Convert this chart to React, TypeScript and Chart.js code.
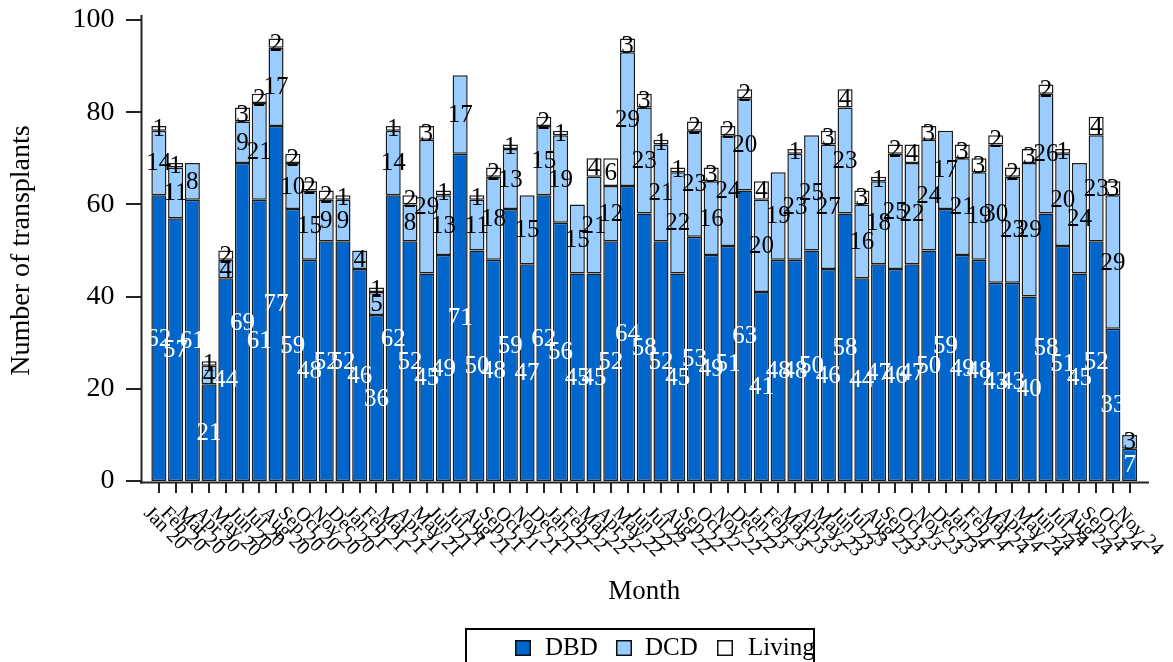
import React, { useEffect, useRef } from "react";
import { Chart, registerables } from "chart.js";

Chart.register(...registerables);

const months: string[] = [
  "Jan 20", "Feb 20", "Mar 20", "Apr 20", "May 20", "Jun 20", "Jul 20", "Aug 20", "Sep 20", "Oct 20", "Nov 20", "Dec 20",
  "Jan 21", "Feb 21", "Mar 21", "Apr 21", "May 21", "Jun 21", "Jul 21", "Aug 21", "Sep 21", "Oct 21", "Nov 21", "Dec 21",
  "Jan 22", "Feb 22", "Mar 22", "Apr 22", "May 22", "Jun 22", "Jul 22", "Aug 22", "Sep 22", "Oct 22", "Nov 22", "Dec 22",
  "Jan 23", "Feb 23", "Mar 23", "Apr 23", "May 23", "Jun 23", "Jul 23", "Aug 23", "Sep 23", "Oct 23", "Nov 23", "Dec 23",
  "Jan 24", "Feb 24", "Mar 24", "Apr 24", "May 24", "Jun 24", "Jul 24", "Aug 24", "Sep 24", "Oct 24", "Nov 24",
];

const dbd: number[] = [
  62, 57, 61, 21, 44, 69, 61, 77, 59, 48, 52, 52,
  46, 36, 62, 52, 45, 49, 71, 50, 48, 59, 47, 62,
  56, 45, 45, 52, 64, 58, 52, 45, 53, 49, 51, 63,
  41, 48, 48, 50, 46, 58, 44, 47, 46, 47, 50, 59,
  49, 48, 43, 43, 40, 58, 51, 45, 52, 33, 7,
];

const dcd: number[] = [
  14, 11, 8, 4, 4, 9, 21, 17, 10, 15, 9, 9,
  4, 5, 14, 8, 29, 13, 17, 11, 18, 13, 15, 15,
  19, 15, 21, 12, 29, 23, 21, 22, 23, 16, 24, 20,
  20, 19, 23, 25, 27, 23, 16, 18, 25, 22, 24, 17,
  21, 19, 30, 23, 29, 26, 20, 24, 23, 29, 3,
];

const living: number[] = [
  1, 1, 0, 1, 2, 3, 2, 2, 2, 2, 2, 1,
  0, 1, 1, 2, 3, 1, 0, 1, 2, 1, 0, 2,
  1, 0, 4, 6, 3, 3, 1, 1, 2, 3, 2, 2,
  4, 0, 1, 0, 3, 4, 3, 1, 2, 4, 3, 0,
  3, 3, 2, 2, 3, 2, 1, 0, 4, 3, 0,
];

const seriesNames = ["DBD", "DCD", "Living"];
const seriesColors = ["#0066CC", "#99CCFF", "#FFFFFF"];
const labelColors = ["#FFFFFF", "#000000", "#000000"];

const yMin = 0;
const yMax = 100;
const yStep = 20;

const SERIF = "'Liberation Serif', 'Times New Roman', serif";

const W = 1173;
const H = 662;

const customPlugin = {
  id: "customDraw",
  afterDatasetsDraw(chart: any) {
    const ctx = chart.ctx;
    ctx.save();
    ctx.font = `25px ${SERIF}`;
    ctx.textAlign = "center";
    ctx.textBaseline = "middle";
    chart.data.datasets.forEach((ds: any, di: number) => {
      const meta = chart.getDatasetMeta(di);
      ctx.fillStyle = labelColors[di];
      meta.data.forEach((el: any, j: number) => {
        const v = ds.data[j];
        if (!v) return;
        const p = el.getProps(["x", "y", "base"], true);
        ctx.fillText(String(v), p.x, (p.y + p.base) / 2 + 1);
      });
    });
    ctx.restore();
  },
  afterDraw(chart: any) {
    const ctx = chart.ctx;
    const xs = chart.scales.x;
    const ys = chart.scales.y;
    ctx.save();
    ctx.strokeStyle = "#222";
    ctx.lineWidth = 2;
    // y axis line
    ctx.beginPath();
    ctx.moveTo(141.5, 15);
    ctx.lineTo(141.5, 483.5);
    ctx.stroke();
    // x axis line
    ctx.beginPath();
    ctx.moveTo(140, 482.5);
    ctx.lineTo(1149, 482.5);
    ctx.stroke();
    // y ticks
    ys.ticks.forEach((t: any) => {
      const y = Math.round(ys.getPixelForValue(t.value));
      ctx.beginPath();
      ctx.moveTo(126, y);
      ctx.lineTo(141, y);
      ctx.stroke();
    });
    // x ticks and labels
    ctx.fillStyle = "#000";
    ctx.font = `20px ${SERIF}`;
    ctx.textAlign = "left";
    ctx.textBaseline = "alphabetic";
    months.forEach((m, i) => {
      const x = Math.round(xs.getPixelForValue(i));
      ctx.beginPath();
      ctx.moveTo(x, 483);
      ctx.lineTo(x, 493);
      ctx.stroke();
      ctx.save();
      ctx.translate(x - 16, 514);
      ctx.rotate(Math.PI / 4);
      ctx.fillText(m, 0, 0);
      ctx.restore();
    });
    // legend
    ctx.lineWidth = 2;
    ctx.strokeStyle = "#000";
    ctx.strokeRect(466, 629, 348, 60);
    const boxX = [515, 616, 717];
    const textX = [545, 645, 748];
    ctx.font = `25px ${SERIF}`;
    ctx.textBaseline = "middle";
    seriesNames.forEach((name, i) => {
      ctx.fillStyle = seriesColors[i];
      ctx.fillRect(boxX[i], 640, 16, 16);
      ctx.lineWidth = 1.5;
      ctx.strokeStyle = "#111";
      ctx.strokeRect(boxX[i] + 0.75, 640.75, 14.5, 14.5);
      ctx.fillStyle = "#000";
      ctx.fillText(name, textX[i], 648);
    });
    ctx.restore();
  },
};

export default function App() {
  const ref = useRef<HTMLCanvasElement | null>(null);

  useEffect(() => {
    if (!ref.current) return;
    const datasets = [dbd, dcd, living].map((arr, i) => ({
      label: seriesNames[i],
      data: arr,
      backgroundColor: seriesColors[i],
      borderColor: "#1c1c1c",
      borderWidth: 1.5,
      borderSkipped: false as const,
      categoryPercentage: 1,
      barPercentage: 0.9,
    }));
    const chart = new Chart(ref.current, {
      type: "bar",
      data: { labels: months, datasets },
      options: {
        animation: false,
        responsive: false,
        devicePixelRatio: 1,
        events: [],
        layout: { padding: { left: 0, right: 35, top: 20, bottom: 0 } },
        plugins: {
          legend: { display: false },
          tooltip: { enabled: false },
          title: { display: false },
        },
        scales: {
          x: {
            stacked: true,
            offset: true,
            grid: { display: false },
            border: { display: false },
            ticks: { display: false },
            title: {
              display: true,
              text: "Month",
              color: "#000",
              font: { family: SERIF, size: 27 },
              padding: { top: 0, bottom: 54 },
            },
            afterFit(scale: any) {
              scale.height = 181;
            },
          },
          y: {
            stacked: true,
            min: yMin,
            max: yMax,
            grid: { display: false },
            border: { display: false },
            ticks: {
              stepSize: yStep,
              color: "#000",
              font: { family: SERIF, size: 28 },
              padding: 28,
            },
            title: {
              display: true,
              text: "Number of transplants",
              color: "#000",
              font: { family: SERIF, size: 28 },
              padding: { top: 5, bottom: 0 },
            },
            afterFit(scale: any) {
              scale.width = 150.5;
              scale.paddingTop = 10;
              scale.paddingBottom = 10;
            },
          },
        },
      },
      plugins: [customPlugin],
    } as any);
    return () => chart.destroy();
  }, []);

  return (
    <div style={{ position: "fixed", left: 0, top: 0, width: W, height: H, background: "#fff" }}>
      <canvas ref={ref} width={W} height={H} style={{ display: "block", width: W, height: H }} />
    </div>
  );
}
